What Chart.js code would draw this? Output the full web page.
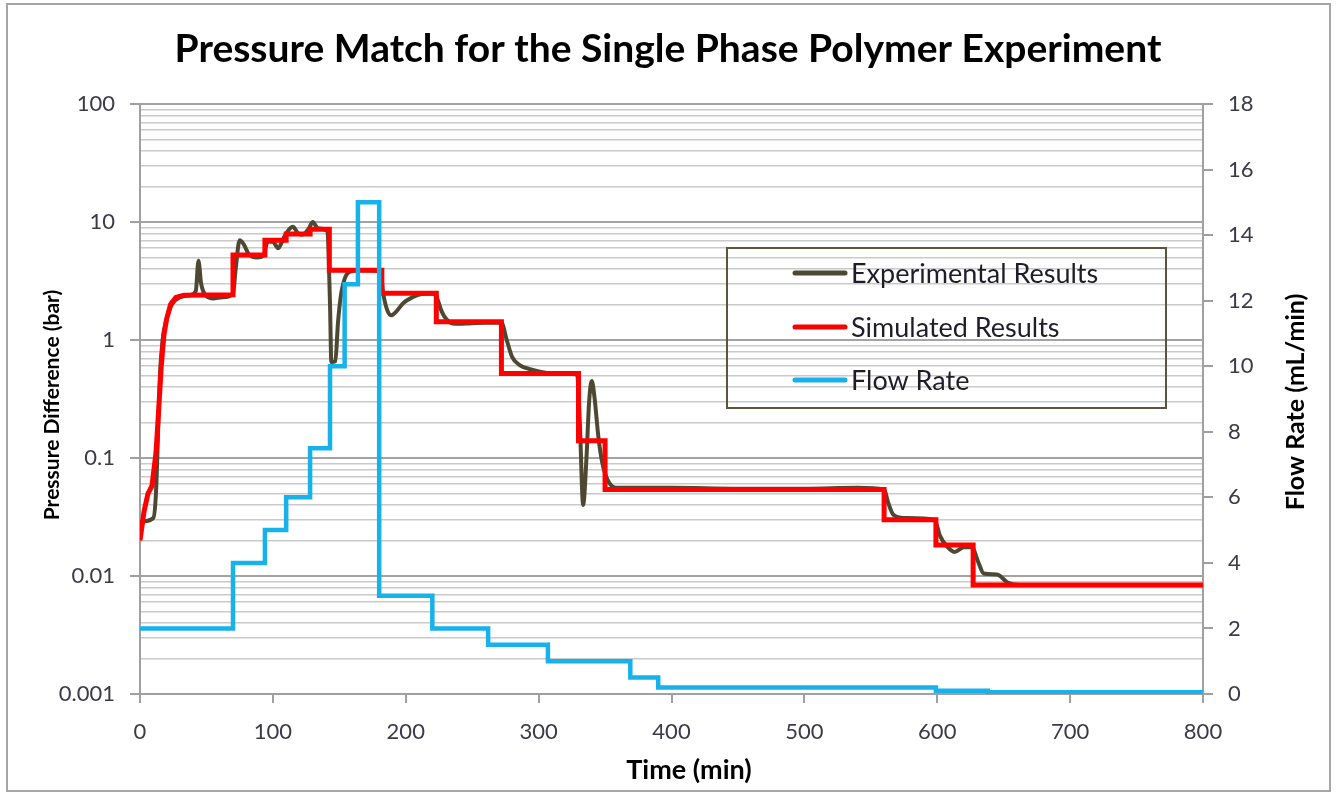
<!DOCTYPE html>
<html>
<head>
<meta charset="utf-8">
<title>Pressure Match for the Single Phase Polymer Experiment</title>
<script src="https://cdn.jsdelivr.net/npm/chart.js@4.4.1/dist/chart.umd.min.js"></script>
<style>
  html, body { margin: 0; padding: 0; background: #fff; }
  #wrap { width: 1340px; height: 793px; }
</style>
</head>
<body>
<div id="wrap"><canvas id="pressureChart" width="1340" height="793"></canvas></div>
<script>
// ---- data ----
const chartTitle = 'Pressure Match for the Single Phase Polymer Experiment';
const seriesNames = ['Experimental Results', 'Simulated Results', 'Flow Rate'];

// experimental pressure difference (bar) vs time (min)
const expTime = [0, 2, 10, 12, 13.5, 15, 17, 20, 24, 30, 38, 42, 44, 46, 50, 55, 62, 70,
  72, 75, 78, 82, 88, 93, 96, 100, 104, 108, 112, 115, 119, 122, 127, 130, 134, 141,
  143, 144, 147, 149, 151, 154, 158, 165, 181, 183, 186, 189, 193, 198, 205, 212, 222,
  224, 227, 231, 237, 245, 260, 272, 276, 280, 286, 295, 310, 329, 331, 333.5, 336, 338,
  340, 342, 345, 348, 352, 358, 400, 450, 500, 540, 560, 563, 567, 575, 598, 602, 607,
  613, 620, 626, 631, 635, 645, 653, 662, 800];
const expPressure = [0.028, 0.029, 0.031, 0.05, 0.15, 0.5, 1.0, 1.5, 2.0, 2.3, 2.4, 2.6, 4.7, 3.0, 2.35, 2.25, 2.3, 2.45,
  4.0, 7.0, 6.5, 5.3, 5.0, 5.2, 6.8, 6.8, 6.0, 7.3, 8.6, 9.1, 8.0, 7.8, 8.8, 10.0, 8.8, 8.4,
  2.0, 0.65, 0.66, 1.4, 2.3, 3.3, 3.8, 3.9, 3.8, 2.5, 1.8, 1.62, 1.75, 2.05, 2.3, 2.45, 2.48,
  2.2, 1.75, 1.48, 1.37, 1.38, 1.4, 1.4, 1.0, 0.72, 0.61, 0.56, 0.52, 0.51, 0.2, 0.04, 0.1, 0.3,
  0.45, 0.33, 0.15, 0.09, 0.065, 0.056, 0.056, 0.055, 0.055, 0.056, 0.054, 0.042, 0.033, 0.031, 0.030, 0.022, 0.018,
  0.016, 0.0175, 0.0175, 0.013, 0.0105, 0.0103, 0.0088, 0.0084, 0.0084];

// simulated pressure difference (bar) vs time (min)
const simTime = [0, 3, 6, 9, 12, 14, 16, 18, 20, 23, 27, 33, 70, 70, 94, 94, 110, 110, 128, 128,
  142.5, 142.5, 182, 182, 223, 223, 272, 272, 330, 330, 350, 350, 560, 560, 599, 599, 627, 627, 800];
const simPressure = [0.02, 0.035, 0.05, 0.058, 0.11, 0.25, 0.6, 1.1, 1.5, 2.0, 2.3, 2.4, 2.42, 5.25, 5.25, 7.0, 7.0, 7.9, 7.9, 8.7,
  8.7, 3.9, 3.9, 2.49, 2.49, 1.43, 1.43, 0.52, 0.52, 0.14, 0.14, 0.054, 0.054, 0.030, 0.030, 0.0183, 0.0183, 0.0084, 0.0084];

// flow rate (mL/min): value that starts at each time
const flowTime = [0, 70, 94, 110, 128, 143, 154, 164, 180, 220, 262, 307, 369, 390, 599, 638, 800];
const flowRate = [2, 4, 5, 6, 7.5, 10, 12.5, 15, 3, 2, 1.5, 1, 0.5, 0.2, 0.1, 0.05, 0.05];

// axis ticks
const timeTicks = [0, 100, 200, 300, 400, 500, 600, 700, 800];
const pressureDecades = [0.001, 0.01, 0.1, 1, 10, 100];
const pressureTickLabels = ['0.001', '0.01', '0.1', '1', '10', '100'];
const flowTicks = [0, 2, 4, 6, 8, 10, 12, 14, 16, 18];

const colors = { exp: '#4d4832', sim: '#ff0000', flow: '#18b2ea' };
const font = 'Lato, "Open Sans", sans-serif';

function toPoints(xs, ys) {
  return xs.map((x, i) => ({ x, y: ys[i] }));
}

function isDecade(v) {
  const l = Math.log10(v);
  return Math.abs(l - Math.round(l)) < 1e-9;
}

// title, frame, axis titles and the boxed legend
const decorPlugin = {
  id: 'decor',
  beforeDraw(chart) {
    const ctx = chart.ctx;
    ctx.save();
    ctx.fillStyle = '#fff';
    ctx.fillRect(0, 0, chart.width, chart.height);
    ctx.strokeStyle = '#a6a6a6';
    ctx.lineWidth = 2;
    ctx.strokeRect(7, 4, 1323, 787);
    ctx.restore();
  },
  afterDraw(chart) {
    const ctx = chart.ctx;
    ctx.save();
    ctx.fillStyle = '#000';
    ctx.textAlign = 'center';
    ctx.textBaseline = 'middle';
    ctx.font = 'bold 39px ' + font;
    ctx.fillText(chartTitle, 668, 49);

    ctx.font = 'bold 27px ' + font;
    ctx.fillText('Time (min)', 689, 770);
    ctx.save();
    ctx.translate(52, 405);
    ctx.rotate(-Math.PI / 2);
    ctx.font = 'bold 21px ' + font;
    ctx.fillText('Pressure Difference (bar)', 0, 0);
    ctx.restore();
    ctx.save();
    ctx.translate(1296, 402);
    ctx.rotate(-Math.PI / 2);
    ctx.font = 'bold 25px ' + font;
    ctx.fillText('Flow Rate (mL/min)', 0, 0);
    ctx.restore();

    // legend
    ctx.strokeStyle = '#5a5540';
    ctx.lineWidth = 2;
    ctx.strokeRect(727, 248, 439, 160);
    const rows = [273, 327, 380];
    const lineColors = [colors.exp, colors.sim, colors.flow];
    ctx.textAlign = 'left';
    ctx.font = '27px ' + font;
    ctx.lineCap = 'round';
    seriesNames.forEach((name, i) => {
      ctx.strokeStyle = lineColors[i];
      ctx.lineWidth = 5;
      ctx.beginPath();
      ctx.moveTo(795, rows[i]);
      ctx.lineTo(845, rows[i]);
      ctx.stroke();
      ctx.fillStyle = '#1e1e2a';
      ctx.fillText(name, 851, rows[i] + 1);
    });
    ctx.restore();
  }
};

const ctx = document.getElementById('pressureChart').getContext('2d');

new Chart(ctx, {
  type: 'line',
  data: {
    datasets: [
      {
        label: seriesNames[0],
        data: toPoints(expTime, expPressure),
        yAxisID: 'y',
        borderColor: colors.exp,
        borderWidth: 4,
        pointRadius: 0,
        cubicInterpolationMode: 'monotone',
        order: 2
      },
      {
        label: seriesNames[1],
        data: toPoints(simTime, simPressure),
        yAxisID: 'y',
        borderColor: colors.sim,
        borderWidth: 5,
        pointRadius: 0,
        tension: 0,
        order: 1
      },
      {
        label: seriesNames[2],
        data: toPoints(flowTime, flowRate),
        yAxisID: 'y2',
        borderColor: colors.flow,
        borderWidth: 4.5,
        pointRadius: 0,
        stepped: true,
        order: 0
      }
    ]
  },
  options: {
    responsive: false,
    animation: false,
    devicePixelRatio: 1,
    layout: { padding: { top: 104, left: 0, right: 0, bottom: 0 } },
    plugins: {
      legend: { display: false },
      title: { display: false },
      tooltip: { enabled: false }
    },
    scales: {
      x: {
        type: 'linear',
        min: 0,
        max: 800,
        afterBuildTicks: (scale) => { scale.ticks = timeTicks.map(v => ({ value: v })); },
        afterFit: (scale) => { scale.height = 99; },
        grid: { drawOnChartArea: false, tickLength: 9, color: '#a0a0a0', lineWidth: 2 },
        border: { color: '#a0a0a0', width: 2 },
        ticks: { font: { family: font, size: 22 }, color: '#3a3a48', padding: 16, maxRotation: 0 }
      },
      y: {
        type: 'logarithmic',
        position: 'left',
        min: 0.001,
        max: 100,
        afterBuildTicks: (scale) => {
          const t = [];
          pressureDecades.slice(0, -1).forEach(d => {
            for (let k = 1; k <= 9; k++) t.push({ value: d * k });
          });
          t.push({ value: pressureDecades[pressureDecades.length - 1] });
          scale.ticks = t;
        },
        afterFit: (scale) => { scale.width = 140; },
        grid: {
          color: (c) => (c.tick && isDecade(c.tick.value)) ? '#a3a3a3' : '#cacaca',
          lineWidth: (c) => (c.tick && isDecade(c.tick.value)) ? 2 : 1.5,
          tickColor: (c) => (c.tick && isDecade(c.tick.value)) ? '#a0a0a0' : 'rgba(0,0,0,0)',
          tickLength: 10
        },
        border: { color: '#a0a0a0', width: 2 },
        ticks: {
          autoSkip: false,
          font: { family: font, size: 22 },
          color: '#3a3a48',
          padding: 15,
          callback: (v) => {
            const i = pressureDecades.findIndex(d => Math.abs(d - v) / d < 1e-9);
            return i >= 0 ? pressureTickLabels[i] : '';
          }
        }
      },
      y2: {
        type: 'linear',
        position: 'right',
        min: 0,
        max: 18,
        afterBuildTicks: (scale) => { scale.ticks = flowTicks.map(v => ({ value: v })); },
        afterFit: (scale) => { scale.width = 137; },
        grid: { drawOnChartArea: false, tickLength: 10, color: '#a0a0a0', lineWidth: 2 },
        border: { color: '#a0a0a0', width: 2 },
        ticks: { font: { family: font, size: 22 }, color: '#3a3a48', padding: 15 }
      }
    }
  },
  plugins: [decorPlugin]
});
</script>
</body>
</html>
